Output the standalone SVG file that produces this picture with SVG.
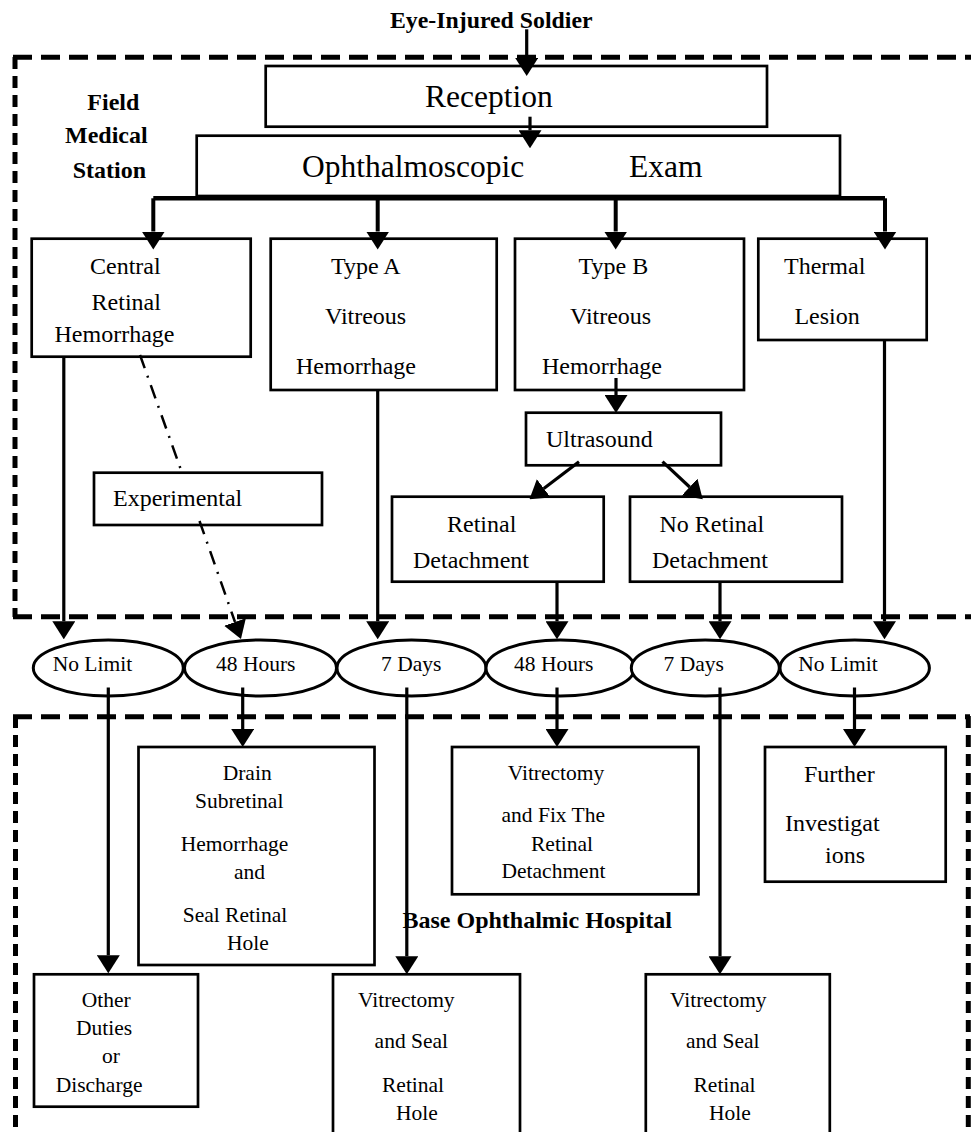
<svg xmlns="http://www.w3.org/2000/svg" width="971" height="1132" viewBox="0 0 971 1132">
<style>
.box{fill:#fff;stroke:#000;stroke-width:2.7}
.ell{fill:#fff;stroke:#000;stroke-width:3}
.t{font-family:"Liberation Serif","Times New Roman",serif;font-size:24px;fill:#000}
.s{font-size:21.5px}
.big{font-size:31.5px}
.b{font-weight:bold}
.c{fill:none;stroke:#000;stroke-width:3.2}
.thick{fill:none;stroke:#000;stroke-width:4.5}
.dd{fill:none;stroke:#000;stroke-width:2.5;stroke-dasharray:14 8 2 8}
.dh{fill:none;stroke:#000;stroke-width:5;stroke-dasharray:19 9}
.dv{fill:none;stroke:#000;stroke-width:5;stroke-dasharray:12 7}
</style>
<defs>
<marker id="ah" markerUnits="userSpaceOnUse" markerWidth="18" markerHeight="23" viewBox="0 0 18 23" refX="0" refY="11.5" orient="auto">
<path d="M0,0 L18,11.5 L0,23 z" fill="#000"/>
</marker>
</defs>
<rect width="971" height="1132" fill="#fff"/>

<g id="field-station-boundary">
<line class="dh" x1="13" y1="57.3" x2="971" y2="57.3"/>
<line class="dv" x1="15" y1="57" x2="15" y2="617"/>
<line class="dh" x1="13" y1="616.7" x2="971" y2="616.7"/>
<text class="t b" x="87.3" y="110">Field</text>
<text class="t b" x="65" y="143.3">Medical</text>
<text class="t b" x="72.7" y="177.7">Station</text>
</g>

<g id="base-hospital-boundary">
<line class="dh" x1="13" y1="716.7" x2="970" y2="716.7"/>
<line class="dv" x1="15.5" y1="716" x2="15.5" y2="1132"/>
<line class="dv" x1="968.3" y1="716" x2="968.3" y2="1132"/>
<text class="t b" x="402.5" y="928.3">Base Ophthalmic Hospital</text>
</g>

<g id="soldier">
<text class="t b" x="390" y="28" style="font-size:23.8px">Eye-Injured Soldier</text>
</g>

<g id="reception">
<rect class="box" x="265.7" y="66" width="501.3" height="60.7"/>
<text class="t big" x="425" y="107.3">Reception</text>
</g>

<g id="exam">
<rect class="box" x="196.7" y="135.7" width="643.3" height="60.3"/>
<text class="t big" x="302" y="176.7">Ophthalmoscopic</text>
<text class="t big" x="629" y="176.7">Exam</text>
</g>

<g id="central-retinal-hemorrhage">
<rect class="box" x="31.7" y="238.7" width="219" height="118"/>
<text class="t" x="90" y="274">Central</text>
<text class="t" x="91.6" y="309.5">Retinal</text>
<text class="t" x="54.5" y="342">Hemorrhage</text>
</g>

<g id="type-a">
<rect class="box" x="270.7" y="238.7" width="226" height="151.3"/>
<text class="t" x="331" y="274">Type A</text>
<text class="t" x="325" y="323.5">Vitreous</text>
<text class="t" x="296" y="373.5">Hemorrhage</text>
</g>

<g id="type-b">
<rect class="box" x="515" y="238.7" width="229" height="151.3"/>
<text class="t" x="578.5" y="274">Type B</text>
<text class="t" x="570" y="323.5">Vitreous</text>
<text class="t" x="542" y="373.5">Hemorrhage</text>
</g>

<g id="thermal-lesion">
<rect class="box" x="758.3" y="238.7" width="168.4" height="101.3"/>
<text class="t" x="784" y="274">Thermal</text>
<text class="t" x="794.4" y="323.5">Lesion</text>
</g>

<g id="ultrasound">
<rect class="box" x="526" y="412.7" width="195" height="52.6"/>
<text class="t" x="546" y="447">Ultrasound</text>
</g>

<g id="experimental">
<rect class="box" x="94" y="472.7" width="228" height="52.3"/>
<text class="t" x="113" y="506">Experimental</text>
</g>

<g id="retinal-detachment">
<rect class="box" x="392" y="496.7" width="211.7" height="85"/>
<text class="t" x="447" y="532">Retinal</text>
<text class="t" x="413" y="567.5">Detachment</text>
</g>

<g id="no-retinal-detachment">
<rect class="box" x="630" y="496.7" width="212" height="85"/>
<text class="t" x="659.5" y="532">No Retinal</text>
<text class="t" x="652" y="567.5">Detachment</text>
</g>

<g id="e1-no-limit">
<ellipse class="ell" cx="108.3" cy="668" rx="75" ry="28"/>
<text class="t s" x="52.7" y="670.7">No Limit</text>
</g>
<g id="e2-48-hours">
<ellipse class="ell" cx="260.5" cy="668" rx="76" ry="28"/>
<text class="t s" x="216" y="670.7">48 Hours</text>
</g>
<g id="e3-7-days">
<ellipse class="ell" cx="411.5" cy="668" rx="74.5" ry="28"/>
<text class="t s" x="381" y="670.7">7 Days</text>
</g>
<g id="e4-48-hours">
<ellipse class="ell" cx="560.3" cy="668" rx="74.3" ry="28"/>
<text class="t s" x="514" y="670.7">48 Hours</text>
</g>
<g id="e5-7-days">
<ellipse class="ell" cx="705.3" cy="668" rx="74" ry="28"/>
<text class="t s" x="663.5" y="670.7">7 Days</text>
</g>
<g id="e6-no-limit">
<ellipse class="ell" cx="854.7" cy="668" rx="74.7" ry="28"/>
<text class="t s" x="798.3" y="670.7">No Limit</text>
</g>

<g id="drain">
<rect class="box" x="138.5" y="747" width="236" height="218"/>
<text class="t s" x="222.7" y="780">Drain</text>
<text class="t s" x="195" y="808.3">Subretinal</text>
<text class="t s" x="180.8" y="850.7">Hemorrhage</text>
<text class="t s" x="234" y="879.3">and</text>
<text class="t s" x="182.7" y="921.7">Seal Retinal</text>
<text class="t s" x="227" y="950">Hole</text>
</g>

<g id="vitrectomy-fix">
<rect class="box" x="452" y="747" width="246.5" height="147.3"/>
<text class="t s" x="507.7" y="780">Vitrectomy</text>
<text class="t s" x="501.5" y="821.7">and Fix The</text>
<text class="t s" x="531" y="850.7">Retinal</text>
<text class="t s" x="501.5" y="878.3">Detachment</text>
</g>

<g id="further">
<rect class="box" x="765" y="747" width="180.7" height="134.7"/>
<text class="t" x="804" y="781.7">Further</text>
<text class="t" x="785" y="830.7">Investigat</text>
<text class="t" x="825" y="863.3">ions</text>
</g>

<g id="other-duties">
<rect class="box" x="34" y="974.3" width="164" height="132.4"/>
<text class="t s" x="81.7" y="1006.7">Other</text>
<text class="t s" x="76" y="1035">Duties</text>
<text class="t s" x="102" y="1063.3">or</text>
<text class="t s" x="55.7" y="1091.7">Discharge</text>
</g>

<g id="vitrectomy-seal-left">
<rect class="box" x="333" y="974.3" width="187" height="170"/>
<text class="t s" x="358" y="1006.7">Vitrectomy</text>
<text class="t s" x="374.6" y="1048.3">and Seal</text>
<text class="t s" x="382" y="1091.7">Retinal</text>
<text class="t s" x="396" y="1120">Hole</text>
</g>

<g id="vitrectomy-seal-right">
<rect class="box" x="645.8" y="974.3" width="184" height="170"/>
<text class="t s" x="670" y="1006.7">Vitrectomy</text>
<text class="t s" x="686" y="1048.3">and Seal</text>
<text class="t s" x="693.5" y="1091.7">Retinal</text>
<text class="t s" x="709" y="1120">Hole</text>
</g>

<g id="connectors">
<path class="c" d="M526.7,29.3 V58" marker-end="url(#ah)"/>
<path class="c" d="M530,116.7 V130.3" marker-end="url(#ah)"/>
<path class="thick" d="M153.3,198.3 H885"/>
<path class="c" style="stroke-width:4" d="M153.3,198.3 V231.5" marker-end="url(#ah)"/>
<path class="c" style="stroke-width:4" d="M377.7,198.3 V231.5" marker-end="url(#ah)"/>
<path class="c" style="stroke-width:4" d="M615.7,198.3 V231.5" marker-end="url(#ah)"/>
<path class="c" style="stroke-width:4" d="M885,198.3 V231.5" marker-end="url(#ah)"/>
<path class="c" d="M616,378 V395" marker-end="url(#ah)"/>
<path class="c" d="M579,461.7 L543.8,488.4" marker-end="url(#ah)"/>
<path class="c" d="M662.5,461.7 L689.6,487" marker-end="url(#ah)"/>
<path class="c" d="M63.8,356.7 V621.3" marker-end="url(#ah)"/>
<path class="c" d="M377.7,390 V621.3" marker-end="url(#ah)"/>
<path class="c" d="M557,581.7 V621.3" marker-end="url(#ah)"/>
<path class="c" d="M720,581.7 V621.3" marker-end="url(#ah)"/>
<path class="c" d="M884.5,340 V621.3" marker-end="url(#ah)"/>
<path class="dd" d="M140,355 L181,470 M199.5,521 L235,622" marker-end="url(#ah)"/>
<path class="c" d="M108.3,687.5 V955.3" marker-end="url(#ah)"/>
<path class="c" d="M242.7,687.5 V729" marker-end="url(#ah)"/>
<path class="c" d="M406.8,687.5 V956.3" marker-end="url(#ah)"/>
<path class="c" d="M557,687.5 V729" marker-end="url(#ah)"/>
<path class="c" d="M720,687.5 V956.3" marker-end="url(#ah)"/>
<path class="c" d="M854.5,687.5 V729" marker-end="url(#ah)"/>
</g>
</svg>
